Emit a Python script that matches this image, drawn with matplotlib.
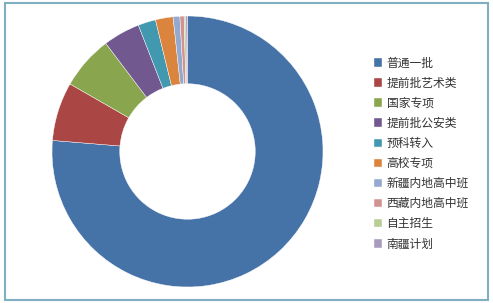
import matplotlib
matplotlib.use("Agg")
from matplotlib import pyplot as plt
from matplotlib.patches import Rectangle

plt.rcParams['font.family'] = ['Noto Sans CJK SC', 'DejaVu Sans']

labels = ["普通一批", "提前批艺术类", "国家专项", "提前批公安类", "预科转入",
          "高校专项", "新疆内地高中班", "西藏内地高中班", "自主招生", "南疆计划"]
values = [76.3, 7.0, 6.4, 4.4, 2.1, 2.1, 0.8, 0.5, 0.2, 0.2]
colors = ["#4572A7", "#AA4643", "#89A54E", "#71588F", "#4198AF",
          "#DB843D", "#93A9CF", "#D19392", "#B9CD96", "#A99BBD"]

fig = plt.figure(figsize=(4.93, 3.03), dpi=100)
fig.patch.set_facecolor("white")

# outer frame
fig.patches.append(Rectangle((5 / 493, 3 / 303), 483 / 493, 297 / 303,
                             transform=fig.transFigure, fill=False,
                             edgecolor="#7FAFC0", linewidth=1.5))

ax = fig.add_axes([52 / 493, 16 / 303, 271 / 493, 271 / 303])
wedges, _ = ax.pie(values, colors=colors, startangle=90, counterclock=False,
                   wedgeprops=dict(width=0.5, edgecolor="white", linewidth=0.3))
ax.set_xlim(-1, 1)
ax.set_ylim(-1, 1)
ax.set_aspect("equal")

leg = fig.legend(wedges, labels, loc="upper left",
                 bbox_to_anchor=(363 / 493, 1 - 46 / 303),
                 frameon=False, fontsize=8.5, handlelength=0.75, handleheight=0.75,
                 handletextpad=0.35, labelspacing=0.6, labelcolor="#333333")

fig.savefig("out.png", dpi=100)
